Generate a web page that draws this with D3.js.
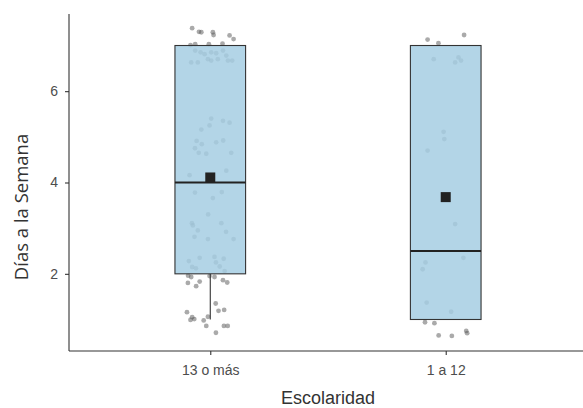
<!DOCTYPE html>
<html><head><meta charset="utf-8">
<script src="https://cdn.jsdelivr.net/npm/d3@7"></script>
<style>html,body{margin:0;padding:0;background:#fff;}</style>
</head><body>
<script>
// ---- data ----
const categories = ["13 o más", "1 a 12"];
const q1 = [2, 1];
const medians = [4, 2.5];
const q3 = [7, 7];
const whiskerLow = [1, 1];
const whiskerHigh = [7, 7];
const means = [4.11, 3.68];
const yTicks = [2, 4, 6];
const xTitle = "Escolaridad";
const yTitle = "Días a la Semana";

// jittered observations (value, horizontal offset in category steps)
const pointsA_y = [7.38,7.30,7.29,7.29,7.23,7.22,7.14,7.01,7.03,7.03,7.04,
  6.89,6.85,6.81,6.85,6.83,6.89,6.78,6.63,6.63,6.70,6.67,6.70,6.67,6.67,
  5.40,5.35,5.31,5.25,5.16,4.91,4.84,4.88,4.92,4.75,4.65,4.63,4.65,
  4.26,4.16,3.78,3.66,3.79,
  3.30,3.11,3.06,3.11,2.92,2.95,2.81,2.76,2.76,
  2.35,2.37,2.33,2.28,2.25,2.15,2.12,2.16,2.06,1.96,1.93,1.95,1.93,1.83,1.80,1.73,1.86,1.81,
  1.35,1.16,1.19,1.21,1.05,0.99,1.01,0.98,1.06,0.86,0.86,0.86,0.71];
const pointsA_dx = [-0.077,-0.048,-0.038,0.011,0.014,0.082,0.099,-0.084,-0.064,-0.006,0.052,
  -0.064,-0.041,-0.024,0.004,0.025,0.054,0.068,-0.081,-0.053,-0.010,0.004,0.032,0.075,0.093,
  0.004,0.054,0.082,-0.003,-0.038,-0.058,-0.036,0.025,0.055,-0.065,-0.049,-0.017,0.089,
  0.068,-0.088,-0.065,0.011,0.049,
  -0.009,-0.078,-0.074,0.047,0.067,-0.053,-0.067,-0.010,0.099,
  -0.045,0.018,0.057,-0.091,0.024,-0.077,-0.061,0.040,0.061,-0.094,-0.081,-0.003,0.018,-0.045,-0.095,-0.060,0.054,0.072,
  0.023,-0.099,0.035,0.059,-0.077,-0.084,-0.068,-0.028,-0.010,-0.017,0.058,0.074,0.024];
const pointsB_y = [7.13,7.05,7.23,6.70,6.63,6.74,6.67,5.11,4.95,4.70,
  3.09,2.25,2.10,2.35,1.37,1.17,0.94,0.92,0.65,0.64,0.75,0.70];
const pointsB_dx = [-0.077,-0.031,0.078,-0.051,0.040,0.054,0.065,-0.009,-0.006,-0.077,
  0.040,-0.086,-0.098,0.075,-0.081,0.023,-0.088,-0.048,-0.030,0.026,0.087,0.091];

const W = 583, H = 408;
const svg = d3.select("body").append("svg").attr("width", W).attr("height", H)
  .style("font-family", "'Liberation Sans', Arial, sans-serif");

const x = d3.scalePoint().domain(categories).range([69, 587]).padding(0.6);
const y = d3.scaleLinear().domain([0.31, 7.69]).range([351, 14]);
const step = x.step();
const boxW = 0.3 * step;

const groups = categories.map((c, i) => ({
  cat: c, q1: q1[i], med: medians[i], q3: q3[i], lo: whiskerLow[i], hi: whiskerHigh[i], mean: means[i],
  pts: (i === 0 ? pointsA_y : pointsB_y).map((v, j) => ({v, dx: (i === 0 ? pointsA_dx : pointsB_dx)[j]}))
}));

// points (behind boxes)
const g = svg.append("g");
groups.forEach(gr => {
  g.selectAll(null).data(gr.pts).enter().append("circle")
    .attr("cx", d => x(gr.cat) + d.dx * step)
    .attr("cy", d => y(d.v))
    .attr("r", 2.4)
    .attr("fill", "#555")
    .attr("fill-opacity", 0.5);
});

// whiskers
groups.forEach(gr => {
  if (gr.lo < gr.q1) g.append("line").attr("x1", x(gr.cat)).attr("x2", x(gr.cat))
    .attr("y1", y(gr.q1)).attr("y2", y(gr.lo)).attr("stroke", "#333").attr("stroke-width", 1.1);
  if (gr.hi > gr.q3) g.append("line").attr("x1", x(gr.cat)).attr("x2", x(gr.cat))
    .attr("y1", y(gr.q3)).attr("y2", y(gr.hi)).attr("stroke", "#333").attr("stroke-width", 1.1);
});

// boxes
groups.forEach(gr => {
  g.append("rect")
    .attr("x", x(gr.cat) - boxW / 2).attr("width", boxW)
    .attr("y", y(gr.q3)).attr("height", y(gr.q1) - y(gr.q3))
    .attr("fill", "#a6cee3").attr("fill-opacity", 0.85)
    .attr("stroke", "#333").attr("stroke-width", 1.1);
  g.append("line")
    .attr("x1", x(gr.cat) - boxW / 2).attr("x2", x(gr.cat) + boxW / 2)
    .attr("y1", y(gr.med)).attr("y2", y(gr.med))
    .attr("stroke", "#222").attr("stroke-width", 2.2);
  g.append("rect")
    .attr("x", x(gr.cat) - 5).attr("y", y(gr.mean) - 5)
    .attr("width", 10).attr("height", 10)
    .attr("fill", "#222");
});

// axes
const yAxis = svg.append("g").attr("transform", "translate(69,0)")
  .call(d3.axisLeft(y).tickValues(yTicks).tickFormat(d3.format("d")).tickSize(4).tickPadding(7));
const xAxis = svg.append("g").attr("transform", "translate(0,351)")
  .call(d3.axisBottom(x).tickSize(4).tickPadding(10));
[yAxis, xAxis].forEach(a => {
  a.select(".domain").attr("stroke", "#333").attr("stroke-width", 1.1);
  a.selectAll(".tick line").attr("stroke", "#333").attr("stroke-width", 1.1);
  a.selectAll(".tick text").attr("fill", "#4d4d4d").style("font-size", "14px")
    .style("font-family", "'Liberation Sans', Arial, sans-serif");
});
// y domain spans the full panel without outer ticks
yAxis.select(".domain").attr("d", "M0,14V351");
xAxis.select(".domain").attr("d", "M69,0H583");

// titles
svg.append("text").attr("x", 328).attr("y", 404).attr("text-anchor", "middle")
  .attr("fill", "#333").style("font-size", "18px").text(xTitle);
svg.append("text").attr("transform", "translate(28,207) rotate(-90)")
  .attr("text-anchor", "middle").attr("fill", "#333")
  .style("font-family", "'Open Sans', sans-serif").style("font-size", "18.5px").text(yTitle);
</script>
</body></html>
